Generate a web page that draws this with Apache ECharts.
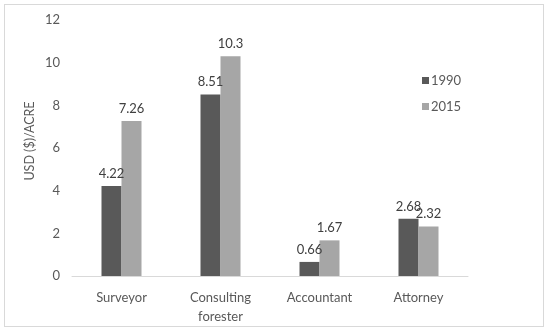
<!DOCTYPE html>
<html><head><meta charset="utf-8">
<script src="https://cdn.jsdelivr.net/npm/echarts@6/dist/echarts.min.js"></script>
<style>html,body{margin:0;padding:0;background:#fff}#c{width:550px;height:333px}
#frame{position:absolute;left:4px;top:4px;width:540px;height:323px;border:1px solid #d9d9d9;box-sizing:border-box;pointer-events:none}</style>
</head><body><div id="c"></div><div id="frame"></div>
<script>
const categories = ['Surveyor', 'Consulting\nforester', 'Accountant', 'Attorney'];
const series1990 = [4.22, 8.51, 0.66, 2.68];
const series2015 = [7.26, 10.3, 1.67, 2.32];
const yTicks = [0, 2, 4, 6, 8, 10, 12];
const yName = 'USD ($)/ACRE';
const font = 'Lato, "Open Sans", sans-serif';
const chart = echarts.init(document.getElementById('c'));
chart.setOption({
  animation: false,
  textStyle: {fontFamily: font},
  grid: {left: 72, right: 82, top: 20, bottom: 57},
  legend: {
    orient: 'vertical', left: 417, top: 69, itemWidth: 7, itemHeight: 7, itemGap: 13,
    icon: 'rect', itemStyle: {borderWidth: 0},
    textStyle: {color: '#595959', fontSize: 13, fontFamily: font, padding: [0, 0, 0, -3]},
    data: ['1990', '2015']
  },
  graphic: [{
    type: 'text', x: 30, y: 141, rotation: Math.PI / 2,
    style: {text: yName, fill: '#595959', fontSize: 12.5, fontFamily: font, align: 'center', verticalAlign: 'middle'}
  }],
  xAxis: {
    type: 'category', data: categories,
    axisLine: {lineStyle: {color: '#d9d9d9'}}, axisTick: {show: false},
    axisLabel: {color: '#595959', fontSize: 13, margin: 12, lineHeight: 19, fontFamily: font}
  },
  yAxis: {
    type: 'value', min: yTicks[0], max: yTicks[yTicks.length - 1], interval: 2,
    splitLine: {show: false}, axisLine: {show: false}, axisTick: {show: false},
    axisLabel: {color: '#595959', fontSize: 13, margin: 12, fontFamily: font}
  },
  series: [
    {name: '1990', type: 'bar', data: series1990, barWidth: 20, barGap: '0%',
     itemStyle: {color: '#595959'},
     label: {show: true, position: 'top', color: '#404040', fontSize: 13, distance: 6, fontFamily: font}},
    {name: '2015', type: 'bar', data: series2015, barWidth: 20, barGap: '0%',
     itemStyle: {color: '#a6a6a6'},
     label: {show: true, position: 'top', color: '#404040', fontSize: 13, distance: 6, fontFamily: font}}
  ]
});
</script></body></html>
